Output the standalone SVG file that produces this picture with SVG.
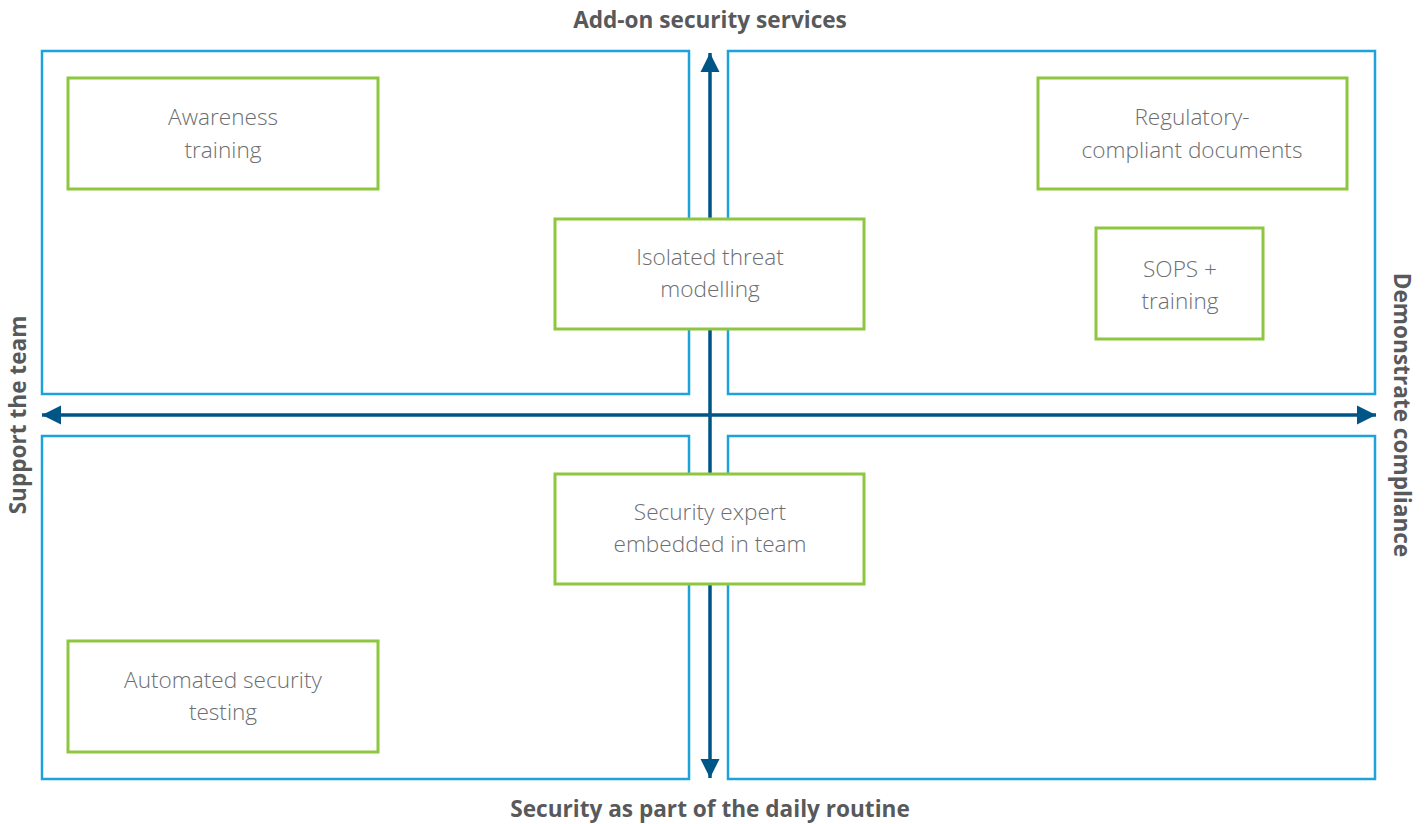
<svg xmlns="http://www.w3.org/2000/svg" width="1428" height="824" viewBox="0 0 1428 824">
<style>
.q{fill:none;stroke:#1ea2dc;stroke-width:2.5}
.b{fill:#fff;stroke:#8dc63f;stroke-width:3}
.t{font-family:"Open Sans","Liberation Sans",sans-serif;font-weight:300;font-size:22.6px;fill:#6d6e71;text-anchor:middle}
.l{font-family:"Open Sans","Liberation Sans",sans-serif;font-weight:700;font-size:22.6px;fill:#58595b;text-anchor:middle}
.a{stroke:#005587;stroke-width:3.5;fill:none}
</style>
<defs>
<marker id="ah" viewBox="0 0 10 10" refX="10" refY="5" markerWidth="5.5" markerHeight="5.5" orient="auto-start-reverse" markerUnits="strokeWidth">
<path d="M0,0 L10,5 L0,10 z" fill="#005587"/>
</marker>
</defs>
<g id="quadrants">
<rect class="q" x="42" y="51" width="647" height="343"/>
<rect class="q" x="728" y="51" width="647" height="343"/>
<rect class="q" x="42" y="436" width="647" height="343"/>
<rect class="q" x="728" y="436" width="647" height="343"/>
</g>
<g id="connectors">
<line class="a" x1="710" y1="53" x2="710" y2="778" marker-start="url(#ah)" marker-end="url(#ah)"/>
<line class="a" x1="42" y1="415" x2="1376" y2="415" marker-start="url(#ah)" marker-end="url(#ah)"/>
</g>
<g id="awareness">
<rect class="b" x="68" y="78" width="310" height="111"/>
<text class="t" x="223" y="125">Awareness</text>
<text class="t" x="223" y="158">training</text>
</g>
<g id="regulatory">
<rect class="b" x="1038" y="78" width="309" height="111"/>
<text class="t" x="1192" y="125">Regulatory-</text>
<text class="t" x="1192" y="158">compliant documents</text>
</g>
<g id="isolated">
<rect class="b" x="555" y="219" width="309" height="110"/>
<text class="t" x="710" y="265">Isolated threat</text>
<text class="t" x="710" y="297">modelling</text>
</g>
<g id="sops">
<rect class="b" x="1096" y="228" width="167" height="111"/>
<text class="t" x="1180" y="277">SOPS +</text>
<text class="t" x="1180" y="309">training</text>
</g>
<g id="expert">
<rect class="b" x="555" y="474" width="309" height="110"/>
<text class="t" x="710" y="520">Security expert</text>
<text class="t" x="710" y="552">embedded in team</text>
</g>
<g id="automated">
<rect class="b" x="68" y="641" width="310" height="111"/>
<text class="t" x="223" y="688">Automated security</text>
<text class="t" x="223" y="720">testing</text>
</g>
<g id="labels">
<text class="l" x="710" y="28">Add-on security services</text>
<text class="l" x="710" y="817">Security as part of the daily routine</text>
<text class="l" transform="translate(26,415) rotate(-90)">Support the team</text>
<text class="l" transform="translate(1394,415) rotate(90)">Demonstrate compliance</text>
</g>
</svg>
